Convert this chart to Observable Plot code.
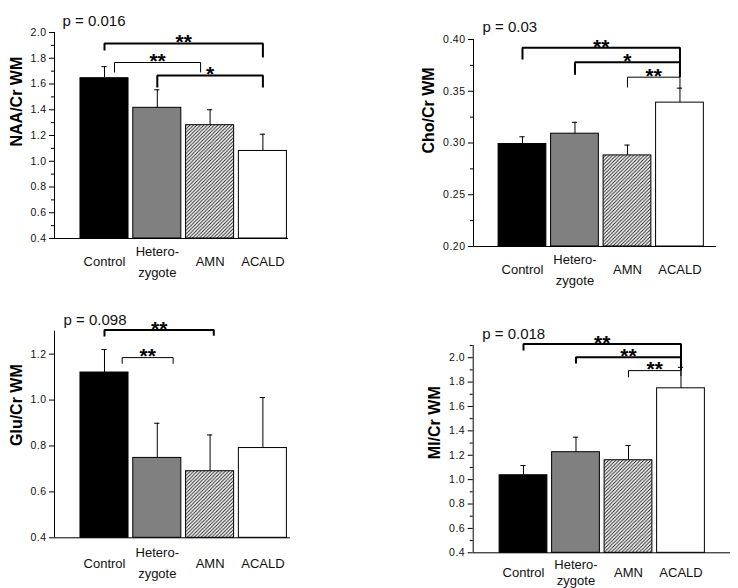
<!DOCTYPE html>
<html><head><meta charset="utf-8">
<script src="https://cdn.jsdelivr.net/npm/d3@7"></script>
<script src="https://cdn.jsdelivr.net/npm/@observablehq/plot@0.6"></script>
<style>
body{margin:0;background:#fff;}
#chart{position:relative;width:738px;height:588px;overflow:hidden;background:#fff;}
#chart svg{position:absolute;overflow:visible;}
#chart g[aria-label="y-axis tick label"] text{letter-spacing:0.5px;}
</style></head><body><div id="chart"></div>
<script>
// ---- data ----
const groups = ["Control", "Heterozygote", "AMN", "ACALD"];
const groupLabels = ["Control", "Hetero-\nzygote", "AMN", "ACALD"];

const naaMean = [1.645, 1.415, 1.28, 1.08];
const naaErr  = [0.09, 0.14, 0.12, 0.13];
const choMean = [0.299, 0.309, 0.288, 0.339];
const choErr  = [0.007, 0.011, 0.010, 0.014];
const gluMean = [1.12, 0.748, 0.69, 0.791];
const gluErr  = [0.10, 0.151, 0.158, 0.22];
const miMean  = [1.036, 1.225, 1.159, 1.749];
const miErr   = [0.08, 0.123, 0.121, 0.172];

const pLabels = ["p = 0.016", "p = 0.03", "p = 0.098", "p = 0.018"];
const yTitles = ["NAA/Cr WM", "Cho/Cr WM", "Glu/Cr WM", "MI/Cr WM"];

// y-axis tick values
const naaTicks = [0.4, 0.6, 0.8, 1.0, 1.2, 1.4, 1.6, 1.8, 2.0];
const choTicks = [0.20, 0.25, 0.30, 0.35, 0.40];
const gluTicks = [0.4, 0.6, 0.8, 1.0, 1.2];
const miTicks  = [0.4, 0.6, 0.8, 1.0, 1.2, 1.4, 1.6, 1.8, 2.0];

// significance brackets: [from, to, bar level, left end, right end, label]
const naaSig = [["Control", "ACALD", 1.915, 1.86, 1.806, "**"],
                ["Control", "AMN", 1.767, 1.69, 1.69, "**"],
                ["Heterozygote", "ACALD", 1.666, 1.573, 1.573, "*"]];
const choSig = [["Control", "ACALD", 0.392, 0.3807, 0.378, "**"],
                ["Heterozygote", "ACALD", 0.378, 0.366, 0.3636, "*"],
                ["AMN", "ACALD", 0.3636, 0.3536, 0.3527, "**"]];
const gluSig = [["Control", "AMN", 1.3057, 1.277, 1.28, "**"],
                ["Control", "Heterozygote", 1.185, 1.158, 1.158, "**"]];
const miSig  = [["Control", "ACALD", 2.113, 2.058, 2.003, "**"],
                ["Heterozygote", "ACALD", 2.003, 1.952, 1.894, "**"],
                ["AMN", "ACALD", 1.894, 1.839, 1.85, "**"]];

// ---- styles (bracket weight and end offsets in group steps) ----
const naaSigStyle = [{w: 2, dl: 0, dr: 0}, {w: 1, dl: 0.19, dr: -0.18}, {w: 2, dl: 0, dr: 0}];
const choSigStyle = [{w: 2, dl: 0, dr: 0}, {w: 2, dl: 0, dr: 0}, {w: 1, dl: 0, dr: 0}];
const gluSigStyle = [{w: 2, dl: 0, dr: 0.07}, {w: 1, dl: 0.335, dr: 0.3}];
const miSigStyle  = [{w: 2, dl: 0, dr: 0}, {w: 2, dl: 0, dr: 0}, {w: 1, dl: 0, dr: 0}];

const font = "'Liberation Sans', Arial, Helvetica, sans-serif";
const ink = "#111";

function panel(k, mean, err, sig, sigStyle, major, cfg) {
  const rows = groups.map((g, i) => ({group: g, i, mean: mean[i], top: mean[i] + err[i]}));
  const fills = ["#000", "#808080", `url(#hatch${k})`, "#fff"];
  const idx = g => groups.indexOf(g);
  const half = 0.455, cap = 0.05;
  const y0 = cfg.y[0];
  let minor = cfg.minor ? d3.pairs(major).map(([a, b]) => (a + b) / 2) : [];
  if (cfg.minor && cfg.y[1] > major[major.length - 1] + 1e-9) minor.push(cfg.y[1]);
  const marks = [
    Plot.rectY(rows, {x1: d => d.i - half, x2: d => d.i + half, y1: y0, y2: "mean",
      fill: d => fills[d.i], stroke: "#000", strokeWidth: 1}),
    Plot.ruleX(rows, {x: "i", y1: "mean", y2: "top", stroke: "#000", strokeWidth: 1}),
    Plot.ruleY(rows, {y: "top", x1: d => d.i - cap, x2: d => d.i + cap, stroke: "#000", strokeWidth: 1}),
    Plot.ruleY([y0], {stroke: "#000", strokeWidth: 1}),
    Plot.ruleX([cfg.x[0]], {stroke: "#000", strokeWidth: 1}),
    Plot.axisY(major, {tickSize: 5, tickPadding: 3, tickFormat: d3.format(cfg.fmt),
      fontSize: 10.5, fill: ink, stroke: "#000", label: null}),
    Plot.text(groupLabels, {x: (d, i) => i, frameAnchor: "bottom", dy: cfg.xdy,
      lineAnchor: "middle", lineHeight: cfg.lh, fontSize: 13, fill: ink}),
    Plot.text([pLabels[k]], {frameAnchor: "top-left", textAnchor: "start", lineAnchor: "middle",
      dx: cfg.pdx, dy: cfg.pdy, fontSize: 15, fill: ink}),
    Plot.text([yTitles[k]], {frameAnchor: "left", rotate: -90, dx: cfg.tdx, dy: cfg.tdy,
      fontSize: 16, fontWeight: "bold", fill: "#000"})
  ];
  if (minor.length) marks.push(Plot.axisY(minor, {tickSize: 3, tickFormat: () => "", label: null, stroke: "#000"}));
  sig.forEach((b, j) => {
    const s = sigStyle[j];
    const xl = idx(b[0]) + s.dl, xr = idx(b[1]) + s.dr;
    const pts = [[xl, b[3]], [xl, b[2]], [xr, b[2]], [xr, b[4]]];
    marks.push(Plot.line(pts, {x: d => d[0], y: d => d[1], stroke: "#000", strokeWidth: s.w,
      strokeLinejoin: "miter", strokeLinecap: "butt"}));
    marks.push(Plot.text([b[5]], {x: (xl + xr) / 2, y: b[2], lineAnchor: "middle", dy: cfg.sdy,
      fontSize: 21, fontWeight: "bold", fill: "#000"}));
  });
  const svg = Plot.plot({
    width: cfg.width, height: cfg.height,
    marginLeft: cfg.ml, marginRight: cfg.mr, marginTop: cfg.mt, marginBottom: cfg.mb,
    x: {type: "linear", domain: cfg.x, axis: null},
    y: {domain: cfg.y, axis: null},
    color: {type: "identity"},
    style: {fontFamily: font, background: "transparent", overflow: "visible"},
    marks
  });
  const defs = d3.select(svg).insert("defs", ":first-child");
  const pat = defs.append("pattern").attr("id", `hatch${k}`).attr("patternUnits", "userSpaceOnUse")
    .attr("width", 3.5).attr("height", 3.5);
  pat.append("rect").attr("width", 3.5).attr("height", 3.5).attr("fill", "#fff");
  pat.append("path").attr("d", "M-1,1 L1,-1 M0,3.5 L3.5,0 M2.5,4.5 L4.5,2.5")
    .attr("stroke", "#222").attr("stroke-width", 1);
  svg.style.left = cfg.left + "px";
  svg.style.top = cfg.top + "px";
  document.getElementById("chart").appendChild(svg);
}

panel(0, naaMean, naaErr, naaSig, naaSigStyle, naaTicks, {
  left: 0, top: 0, width: 369, height: 294, ml: 54, mr: 81, mt: 32, mb: 56,
  x: [-0.947, 3.485], y: [0.4, 2.0], minor: true,
  fmt: ".1f", xdy: 21, lh: 1.62, pdx: 8, pdy: -11.5, tdx: -38, tdy: 11, sdy: -1
});
panel(1, choMean, choErr, choSig, choSigStyle, choTicks, {
  left: 369, top: 0, width: 369, height: 294, ml: 104, mr: 22, mt: 39, mb: 48,
  x: [-0.933, 3.696], y: [0.2, 0.4], minor: true,
  fmt: ".2f", xdy: 21, lh: 1.62, pdx: 9, pdy: -12, tdx: -45, tdy: 10.5, sdy: -1
});
panel(2, gluMean, gluErr, gluSig, gluSigStyle, gluTicks, {
  left: 0, top: 294, width: 369, height: 294, ml: 54, mr: 79, mt: 36.7, mb: 50.7,
  x: [-0.947, 3.523], y: [0.4, 1.3], minor: false,
  fmt: ".1f", xdy: 23, lh: 1.62, pdx: 9, pdy: -11, tdx: -38, tdy: 11.5, sdy: -1
});
panel(3, miMean, miErr, miSig, miSigStyle, miTicks, {
  left: 369, top: 294, width: 369, height: 294, ml: 103.7, mr: 8, mt: 51, mb: 35.7,
  x: [-0.958, 3.943], y: [0.4, 2.1], minor: true,
  fmt: ".1f", xdy: 19.5, lh: 1.22, pdx: 9, pdy: -11.5, tdx: -38, tdy: 10, sdy: -1
});
</script></body></html>
